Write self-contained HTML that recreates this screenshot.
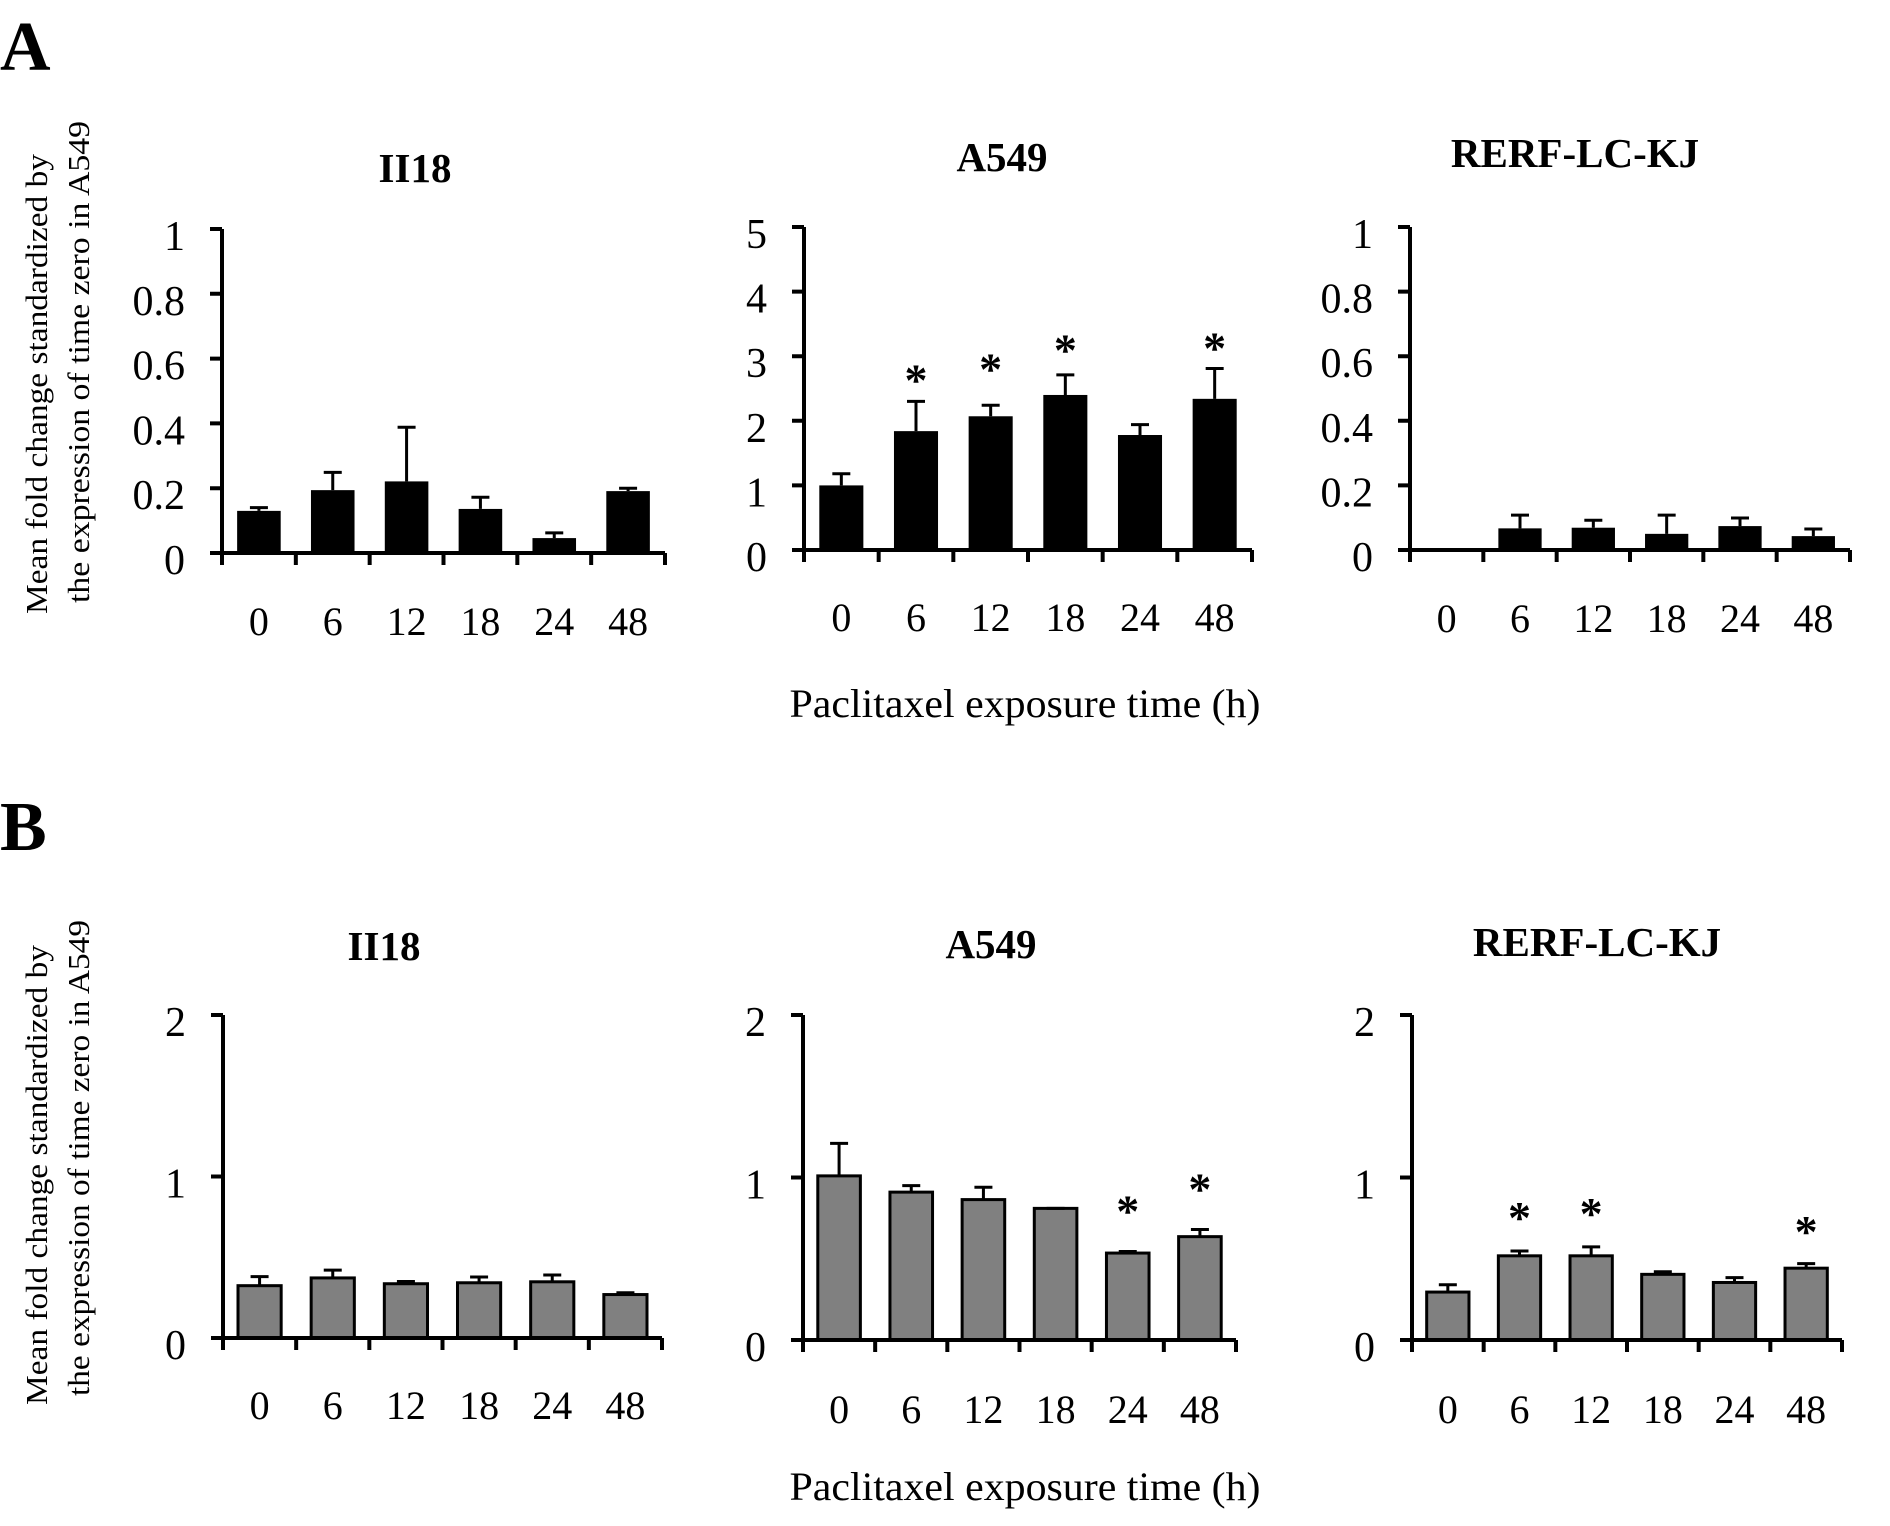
<!DOCTYPE html>
<html><head><meta charset="utf-8"><style>
html,body{margin:0;padding:0;background:#fff;}
svg{display:block;font-family:"Liberation Serif",serif;}
</style></head><body>
<svg id="fig" width="1890" height="1526" viewBox="0 0 1890 1526" xmlns="http://www.w3.org/2000/svg">
<text x="0" y="70" font-size="70" font-weight="bold">A</text>
<text x="0" y="850" font-size="70" font-weight="bold">B</text>
<text transform="translate(47,384) rotate(-90)" text-anchor="middle" font-size="31" textLength="460" lengthAdjust="spacingAndGlyphs">Mean fold change standardized by</text>
<text transform="translate(89,362) rotate(-90)" text-anchor="middle" font-size="31" textLength="482" lengthAdjust="spacingAndGlyphs">the expression of time zero in A549</text>
<text transform="translate(47,1175) rotate(-90)" text-anchor="middle" font-size="31" textLength="460" lengthAdjust="spacingAndGlyphs">Mean fold change standardized by</text>
<text transform="translate(89,1158) rotate(-90)" text-anchor="middle" font-size="31" textLength="476" lengthAdjust="spacingAndGlyphs">the expression of time zero in A549</text>
<text x="1025" y="717" text-anchor="middle" font-size="40" textLength="471" lengthAdjust="spacingAndGlyphs">Paclitaxel exposure time (h)</text>
<text x="1025" y="1500" text-anchor="middle" font-size="40" textLength="471" lengthAdjust="spacingAndGlyphs">Paclitaxel exposure time (h)</text>
</svg>
<script>
const categories = ["0","6","12","18","24","48"];
const titles = ["II18","A549","RERF-LC-KJ","II18","A549","RERF-LC-KJ"];
const yTicksA1 = [0,0.2,0.4,0.6,0.8,1];
const yTickLabelsA1 = ["0","0.2","0.4","0.6","0.8","1"];
const yTicksA2 = [0,1,2,3,4,5];
const yTickLabelsA2 = ["0","1","2","3","4","5"];
const yTicksB = [0,1,2];
const yTickLabelsB = ["0","1","2"];
const meanA1 = [0.13,0.194,0.221,0.136,0.046,0.191];
const errA1 = [0.14,0.249,0.388,0.172,0.062,0.2];
const meanA2 = [1.0,1.84,2.07,2.40,1.78,2.34];
const errA2 = [1.18,2.30,2.24,2.71,1.94,2.81];
const starA2 = [null,2.73,2.90,3.20,null,3.23];
const meanA3 = [0.006,0.067,0.069,0.05,0.074,0.043];
const errA3 = [null,0.108,0.092,0.108,0.099,0.065];
const meanB1 = [0.324,0.372,0.336,0.342,0.348,0.269];
const errB1 = [0.38,0.42,0.35,0.378,0.39,0.28];
const meanB2 = [1.01,0.91,0.864,0.81,0.535,0.636];
const errB2 = [1.21,0.95,0.94,0.81,0.545,0.68];
const starB2 = [null,null,null,null,0.833,0.97];
const meanB3 = [0.295,0.518,0.518,0.404,0.354,0.442];
const errB3 = [0.34,0.548,0.573,0.42,0.384,0.47];
const starB3 = [null,0.795,0.82,null,null,0.707];

const NS = "http://www.w3.org/2000/svg";
const svg = document.getElementById("fig");
function mk(tag, attrs, parent){ const e=document.createElementNS(NS,tag); for(const k in attrs) e.setAttribute(k,attrs[k]); (parent||svg).appendChild(e); return e; }

const panels = [
 {id:"a1",x0:222,x1:665,y0:553,yT:229,max:1,ticks:yTicksA1,labels:yTickLabelsA1,mean:meanA1,err:errA1,star:null,fill:"#000",tx:415,ty:182,xl:635,title:titles[0]},
 {id:"a2",x0:804,x1:1252,y0:550,yT:227,max:5,ticks:yTicksA2,labels:yTickLabelsA2,mean:meanA2,err:errA2,star:starA2,fill:"#000",tx:1002,ty:171,xl:631,title:titles[1]},
 {id:"a3",x0:1410,x1:1850,y0:550,yT:227,max:1,ticks:yTicksA1,labels:yTickLabelsA1,mean:meanA3,err:errA3,star:null,fill:"#000",tx:1575,ty:167,xl:632,title:titles[2]},
 {id:"b1",x0:223,x1:662,y0:1338,yT:1015,max:2,ticks:yTicksB,labels:yTickLabelsB,mean:meanB1,err:errB1,star:null,fill:"#808080",tx:384,ty:960,xl:1419,title:titles[3]},
 {id:"b2",x0:803,x1:1236,y0:1340,yT:1015,max:2,ticks:yTicksB,labels:yTickLabelsB,mean:meanB2,err:errB2,star:starB2,fill:"#808080",tx:991,ty:958,xl:1423,title:titles[4]},
 {id:"b3",x0:1412,x1:1842,y0:1340,yT:1015,max:2,ticks:yTicksB,labels:yTickLabelsB,mean:meanB3,err:errB3,star:starB3,fill:"#808080",tx:1597,ty:956,xl:1423,title:titles[5]}
];

panels.forEach(p=>{
  const g = mk("g",{});
  
  
  const yS = v => p.y0 - (v/p.max)*(p.y0-p.yT);
  const step = (p.x1-p.x0)/categories.length;
  const xC = i => p.x0 + step*(i+0.5);
  const t = mk("text",{x:p.tx,y:p.ty,"text-anchor":"middle","font-size":41,"font-weight":"bold"},g);
  t.textContent = p.title;
  
  
  const bw = step*0.59;
  categories.forEach((c,i)=>{
    const top = yS(p.mean[i]);
    const r = mk("rect",{x:xC(i)-bw/2,y:top,width:bw,height:p.y0-top,fill:p.fill,stroke:"#000","stroke-width":p.fill==="#000"?0:3},g);
    
    
    if(p.err[i]!=null){
      const ey = yS(p.err[i]);
      const l = mk("path",{d:`M${xC(i)} ${top} V${ey} M${xC(i)-9} ${ey} H${xC(i)+9}`,stroke:"#000","stroke-width":3,fill:"none"},g);
      
      
    }
    if(p.star && p.star[i]!=null){
      const s = mk("text",{x:xC(i),y:yS(p.star[i])+22,"text-anchor":"middle","font-size":46,"font-weight":"bold"},g);
      s.textContent = "*";
      
      
    }
    const xl = mk("text",{x:xC(i),y:p.xl,"text-anchor":"middle","font-size":40},g);
    xl.textContent = c;
    
    
  });
  let d = `M${p.x0} ${p.yT} V${p.y0} M${p.x0-2} ${p.y0} H${p.x1}`;
  p.ticks.forEach(v=>{ d += ` M${p.x0-12} ${yS(v)} H${p.x0}`; });
  for(let i=0;i<=categories.length;i++){ const x=p.x0+step*i; d += ` M${x} ${p.y0} V${p.y0+12}`; }
  const ax = mk("path",{d:d,stroke:"#000","stroke-width":4,fill:"none"},g);
  
  
  p.ticks.forEach((v,k)=>{
    const yl = mk("text",{x:p.x0-37,y:yS(v)+21,"text-anchor":"end","font-size":42},g);
    yl.textContent = p.labels[k];
    
    
  });
});
</script>
</body></html>
